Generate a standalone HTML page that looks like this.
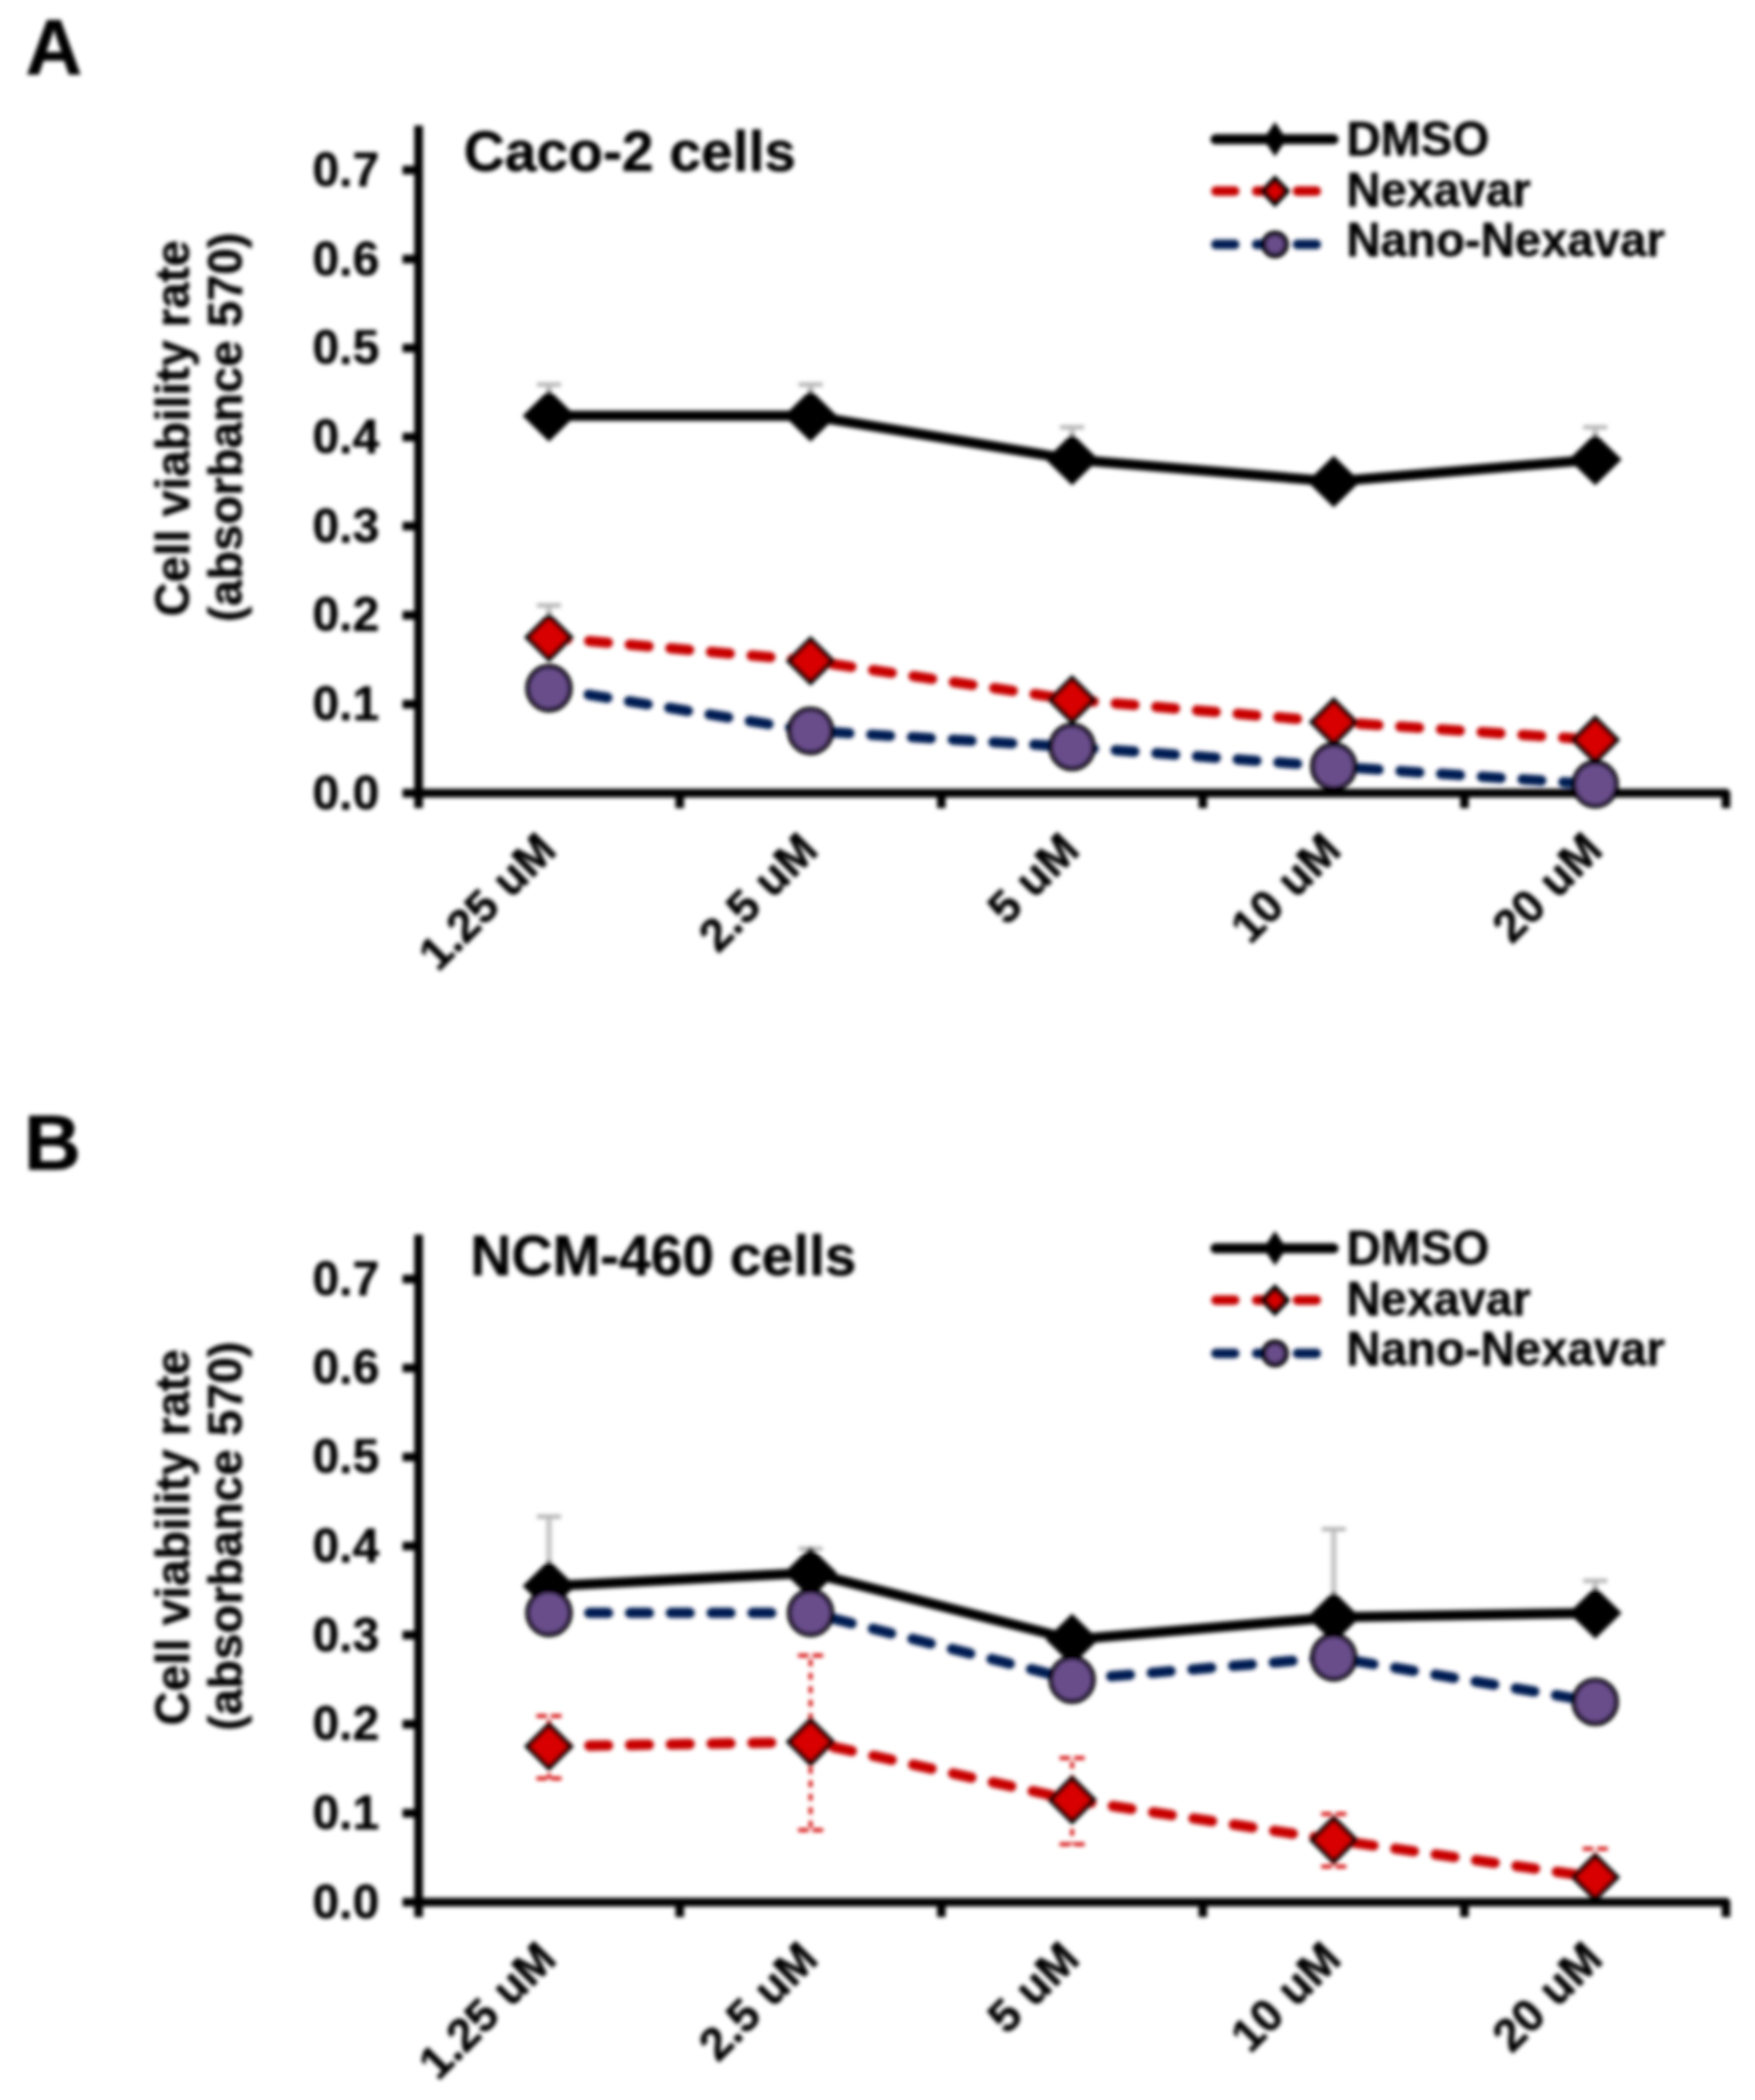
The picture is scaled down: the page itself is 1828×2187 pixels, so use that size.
<!DOCTYPE html>
<html lang="en">
<head>
<meta charset="utf-8">
<title>Cell viability rate - Caco-2 and NCM-460 cells</title>
<style>
html,body{margin:0;padding:0;background:#fff}
svg{display:block}
.b{font-family:"Liberation Sans",Arial,Helvetica,sans-serif;font-weight:bold;fill:#000;stroke:#000;stroke-width:.5px;stroke-linejoin:round}
.ax{stroke:#000;stroke-width:9;fill:none;stroke-linecap:butt}
.ld{stroke:#000;stroke-width:10.5;fill:none;stroke-linejoin:round;stroke-linecap:round}
.ln{stroke:#c80000;stroke-width:10.8;fill:none;stroke-dasharray:19.5 23;stroke-dashoffset:0.5;stroke-linecap:round;stroke-linejoin:round}
.lb{stroke:#061e52;stroke-width:10.8;fill:none;stroke-dasharray:19.5 23;stroke-dashoffset:0.5;stroke-linecap:round;stroke-linejoin:round}
.mr{fill:#d80000;stroke:#000;stroke-width:4.9;stroke-linejoin:miter}
.mp{fill:#694e8b;stroke:#000;stroke-width:4.8}
.eg{stroke:#b4b4b4;stroke-width:4.4;fill:none}
.er{stroke:#d40000;stroke-width:3.8;fill:none}
</style>
</head>
<body>
<svg width="1828" height="2187" viewBox="0 0 1828 2187">
<defs><filter id="bl" x="0" y="0" width="1828" height="2187" filterUnits="userSpaceOnUse"><feGaussianBlur stdDeviation="2.2"/></filter></defs>
<rect width="1828" height="2187" fill="#fff"/>
<g filter="url(#bl)">
<g>
<text x="26.5" y="77" font-size="82" class="b">A</text>
<text x="483" y="177.5" font-size="59.3" class="b">Caco-2 cells</text>
<text transform="translate(196.8 446.1) rotate(-90)" text-anchor="middle" font-size="49.3" class="b">Cell viability rate</text>
<text transform="translate(252.3 444.9) rotate(-90)" text-anchor="middle" font-size="49.3" class="b">(absorbance 570)</text>
<text x="395" y="842.8" text-anchor="end" font-size="50" class="b">0.0</text>
<text x="395" y="750.1" text-anchor="end" font-size="50" class="b">0.1</text>
<text x="395" y="657.4" text-anchor="end" font-size="50" class="b">0.2</text>
<text x="395" y="564.6" text-anchor="end" font-size="50" class="b">0.3</text>
<text x="395" y="471.9" text-anchor="end" font-size="50" class="b">0.4</text>
<text x="395" y="379.2" text-anchor="end" font-size="50" class="b">0.5</text>
<text x="395" y="286.5" text-anchor="end" font-size="50" class="b">0.6</text>
<text x="395" y="193.8" text-anchor="end" font-size="50" class="b">0.7</text>
<path d="M571.8 433.0V400.5" class="eg" style="stroke:#c6c6c6;stroke-width:6"/><path d="M559.3 400.5H584.3" class="eg"/>
<path d="M844.3 433.0V400.5" class="eg" style="stroke:#c6c6c6;stroke-width:6"/><path d="M831.8 400.5H856.8" class="eg"/>
<path d="M1116.7 478.4V445.0" class="eg" style="stroke:#c6c6c6;stroke-width:6"/><path d="M1104.2 445.0H1129.2" class="eg"/>
<path d="M1661.6 478.4V445.0" class="eg" style="stroke:#c6c6c6;stroke-width:6"/><path d="M1649.1 445.0H1674.1" class="eg"/>
<path d="M571.8 663.8V630.5" class="eg" style="stroke:#c6c6c6;stroke-width:6"/><path d="M559.3 630.5H584.3" class="eg"/>
<path d="M436.0 130.8V841.6" class="ax"/>
<path d="M419.3 826.1H1797.8V841.6" class="ax" stroke-linejoin="round"/>
<path d="M419.3 733.4H436.0" class="ax"/>
<path d="M419.3 640.7H436.0" class="ax"/>
<path d="M419.3 547.9H436.0" class="ax"/>
<path d="M419.3 455.2H436.0" class="ax"/>
<path d="M419.3 362.5H436.0" class="ax"/>
<path d="M419.3 269.8H436.0" class="ax"/>
<path d="M419.3 177.1H436.0" class="ax"/>
<path d="M708.0 826.1V841.6" class="ax"/>
<path d="M980.5 826.1V841.6" class="ax"/>
<path d="M1252.9 826.1V841.6" class="ax"/>
<path d="M1525.4 826.1V841.6" class="ax"/>
<polyline points="571.8,433.0 844.3,433.0 1116.7,478.4 1389.2,501.6 1661.6,478.4" class="ld"/>
<path d="M544.3 433.0L571.8 406.0L599.3 433.0L571.8 460.0Z" fill="#000"/>
<path d="M816.8 433.0L844.3 406.0L871.8 433.0L844.3 460.0Z" fill="#000"/>
<path d="M1089.2 478.4L1116.7 451.4L1144.2 478.4L1116.7 505.4Z" fill="#000"/>
<path d="M1361.7 501.6L1389.2 474.6L1416.7 501.6L1389.2 528.6Z" fill="#000"/>
<path d="M1634.1 478.4L1661.6 451.4L1689.1 478.4L1661.6 505.4Z" fill="#000"/>
<polyline points="571.8,663.8 844.3,688.2 1116.7,728.7 1389.2,751.9 1661.6,770.5" class="ln"/>
<path d="M549.2 663.8L571.8 641.2L594.4 663.8L571.8 686.4Z" class="mr"/>
<path d="M821.7 688.2L844.3 665.6L866.9 688.2L844.3 710.8Z" class="mr"/>
<path d="M1094.1 728.7L1116.7 706.1L1139.3 728.7L1116.7 751.3Z" class="mr"/>
<path d="M1366.6 751.9L1389.2 729.3L1411.8 751.9L1389.2 774.5Z" class="mr"/>
<path d="M1639.0 770.5L1661.6 747.9L1684.2 770.5L1661.6 793.1Z" class="mr"/>
<polyline points="571.8,716.7 844.3,761.2 1116.7,777.9 1389.2,798.3 1661.6,816.8" class="lb"/>
<ellipse cx="571.8" cy="716.7" rx="22.2" ry="22.8" class="mp"/>
<ellipse cx="844.3" cy="761.2" rx="22.2" ry="22.8" class="mp"/>
<ellipse cx="1116.7" cy="777.9" rx="22.2" ry="22.8" class="mp"/>
<ellipse cx="1389.2" cy="798.3" rx="22.2" ry="22.8" class="mp"/>
<ellipse cx="1661.6" cy="816.8" rx="22.2" ry="22.8" class="mp"/>
<text transform="translate(581.8 887.6) rotate(-45)" text-anchor="end" font-size="48.4" class="b">1.25 uM</text>
<text transform="translate(854.3 887.6) rotate(-45)" text-anchor="end" font-size="48.4" class="b">2.5 uM</text>
<text transform="translate(1126.7 887.6) rotate(-45)" text-anchor="end" font-size="48.4" class="b">5 uM</text>
<text transform="translate(1399.2 887.6) rotate(-45)" text-anchor="end" font-size="48.4" class="b">10 uM</text>
<text transform="translate(1671.6 887.6) rotate(-45)" text-anchor="end" font-size="48.4" class="b">20 uM</text>
<path d="M1266 145.1H1389" class="ld"/>
<path d="M1316 145.1L1328 127.1L1340 145.1L1328 163.1Z" fill="#000"/>
<text x="1402.5" y="162.1" font-size="49.6" class="b">DMSO</text>
<path d="M1266.5 199.1H1380" class="ln" style="stroke-dashoffset:0;stroke-width:10"/>
<path d="M1315.5 199.1L1328 186.1L1340.5 199.1L1328 212.1Z" class="mr" style="stroke-width:5.5"/>
<text x="1402.5" y="215.1" font-size="49.3" class="b">Nexavar</text>
<path d="M1266.5 254.6H1380" class="lb" style="stroke-dashoffset:0;stroke-width:10"/>
<circle cx="1328" cy="254.6" r="11.8" class="mp" style="stroke-width:5.2"/>
<text x="1402.5" y="266.6" font-size="49.3" class="b">Nano-Nexavar</text>
</g>
<g>
<text x="25" y="1217.5" font-size="82" class="b">B</text>
<text x="490" y="1327.5" font-size="59.3" class="b">NCM-460 cells</text>
<text transform="translate(196.8 1601.0) rotate(-90)" text-anchor="middle" font-size="49.3" class="b">Cell viability rate</text>
<text transform="translate(252.3 1599.8) rotate(-90)" text-anchor="middle" font-size="49.3" class="b">(absorbance 570)</text>
<text x="395" y="1997.7" text-anchor="end" font-size="50" class="b">0.0</text>
<text x="395" y="1905.0" text-anchor="end" font-size="50" class="b">0.1</text>
<text x="395" y="1812.3" text-anchor="end" font-size="50" class="b">0.2</text>
<text x="395" y="1719.5" text-anchor="end" font-size="50" class="b">0.3</text>
<text x="395" y="1626.8" text-anchor="end" font-size="50" class="b">0.4</text>
<text x="395" y="1534.1" text-anchor="end" font-size="50" class="b">0.5</text>
<text x="395" y="1441.4" text-anchor="end" font-size="50" class="b">0.6</text>
<text x="395" y="1348.7" text-anchor="end" font-size="50" class="b">0.7</text>
<path d="M571.8 1651.8V1579.5" class="eg" style="stroke:#c6c6c6;stroke-width:6"/><path d="M559.3 1579.5H584.3" class="eg"/>
<path d="M844.3 1637.9V1612.9" class="eg" style="stroke:#c6c6c6;stroke-width:6"/><path d="M831.8 1612.9H856.8" class="eg"/>
<path d="M1389.2 1684.3V1592.5" class="eg" style="stroke:#c6c6c6;stroke-width:6"/><path d="M1376.7 1592.5H1401.7" class="eg"/>
<path d="M1661.6 1679.7V1646.3" class="eg" style="stroke:#c6c6c6;stroke-width:6"/><path d="M1649.1 1646.3H1674.1" class="eg"/>
<path d="M571.8 1787.2V1852.1" class="er" stroke-dasharray="7 7" stroke-dashoffset="-4"/>
<path d="M558.8 1787.2H584.8M558.8 1852.1H584.8" class="er" stroke-dasharray="11 4"/>
<path d="M844.3 1724.2V1905.9" class="er" stroke-dasharray="7 7" stroke-dashoffset="-4"/>
<path d="M831.3 1724.2H857.3M831.3 1905.9H857.3" class="er" stroke-dasharray="11 4"/>
<path d="M1116.7 1830.8V1920.7" class="er" stroke-dasharray="7 7" stroke-dashoffset="-4"/>
<path d="M1103.7 1830.8H1129.7M1103.7 1920.7H1129.7" class="er" stroke-dasharray="11 4"/>
<path d="M1389.2 1889.2V1943.9" class="er" stroke-dasharray="7 7" stroke-dashoffset="-4"/>
<path d="M1376.2 1889.2H1402.2M1376.2 1943.9H1402.2" class="er" stroke-dasharray="11 4"/>
<path d="M1661.6 1925.4V1981.0" class="er" stroke-dasharray="7 7" stroke-dashoffset="-4"/>
<path d="M1648.6 1925.4H1674.6M1648.6 1981.0H1674.6" class="er" stroke-dasharray="11 4"/>
<path d="M436.0 1285.7V1996.5" class="ax"/>
<path d="M419.3 1981.0H1797.8V1996.5" class="ax" stroke-linejoin="round"/>
<path d="M419.3 1888.3H436.0" class="ax"/>
<path d="M419.3 1795.6H436.0" class="ax"/>
<path d="M419.3 1702.8H436.0" class="ax"/>
<path d="M419.3 1610.1H436.0" class="ax"/>
<path d="M419.3 1517.4H436.0" class="ax"/>
<path d="M419.3 1424.7H436.0" class="ax"/>
<path d="M419.3 1332.0H436.0" class="ax"/>
<path d="M708.0 1981.0V1996.5" class="ax"/>
<path d="M980.5 1981.0V1996.5" class="ax"/>
<path d="M1252.9 1981.0V1996.5" class="ax"/>
<path d="M1525.4 1981.0V1996.5" class="ax"/>
<polyline points="571.8,1651.8 844.3,1637.9 1116.7,1707.5 1389.2,1684.3 1661.6,1679.7" class="ld"/>
<path d="M544.3 1651.8L571.8 1624.8L599.3 1651.8L571.8 1678.8Z" fill="#000"/>
<path d="M816.8 1637.9L844.3 1610.9L871.8 1637.9L844.3 1664.9Z" fill="#000"/>
<path d="M1089.2 1707.5L1116.7 1680.5L1144.2 1707.5L1116.7 1734.5Z" fill="#000"/>
<path d="M1361.7 1684.3L1389.2 1657.3L1416.7 1684.3L1389.2 1711.3Z" fill="#000"/>
<path d="M1634.1 1679.7L1661.6 1652.7L1689.1 1679.7L1661.6 1706.7Z" fill="#000"/>
<polyline points="571.8,1818.7 844.3,1814.1 1116.7,1874.4 1389.2,1916.1 1661.6,1955.0" class="ln"/>
<path d="M549.2 1818.7L571.8 1796.1L594.4 1818.7L571.8 1841.3Z" class="mr"/>
<path d="M821.7 1814.1L844.3 1791.5L866.9 1814.1L844.3 1836.7Z" class="mr"/>
<path d="M1094.1 1874.4L1116.7 1851.8L1139.3 1874.4L1116.7 1897.0Z" class="mr"/>
<path d="M1366.6 1916.1L1389.2 1893.5L1411.8 1916.1L1389.2 1938.7Z" class="mr"/>
<path d="M1639.0 1955.0L1661.6 1932.4L1684.2 1955.0L1661.6 1977.6Z" class="mr"/>
<polyline points="571.8,1679.7 844.3,1679.7 1116.7,1749.2 1389.2,1726.0 1661.6,1772.4" class="lb"/>
<ellipse cx="571.8" cy="1679.7" rx="22.2" ry="22.8" class="mp"/>
<ellipse cx="844.3" cy="1679.7" rx="22.2" ry="22.8" class="mp"/>
<ellipse cx="1116.7" cy="1749.2" rx="22.2" ry="22.8" class="mp"/>
<ellipse cx="1389.2" cy="1726.0" rx="22.2" ry="22.8" class="mp"/>
<ellipse cx="1661.6" cy="1772.4" rx="22.2" ry="22.8" class="mp"/>
<text transform="translate(581.8 2042.5) rotate(-45)" text-anchor="end" font-size="48.4" class="b">1.25 uM</text>
<text transform="translate(854.3 2042.5) rotate(-45)" text-anchor="end" font-size="48.4" class="b">2.5 uM</text>
<text transform="translate(1126.7 2042.5) rotate(-45)" text-anchor="end" font-size="48.4" class="b">5 uM</text>
<text transform="translate(1399.2 2042.5) rotate(-45)" text-anchor="end" font-size="48.4" class="b">10 uM</text>
<text transform="translate(1671.6 2042.5) rotate(-45)" text-anchor="end" font-size="48.4" class="b">20 uM</text>
<path d="M1266 1300.0H1389" class="ld"/>
<path d="M1316 1300.0L1328 1282.0L1340 1300.0L1328 1318.0Z" fill="#000"/>
<text x="1402.5" y="1317.0" font-size="49.6" class="b">DMSO</text>
<path d="M1266.5 1354.0H1380" class="ln" style="stroke-dashoffset:0;stroke-width:10"/>
<path d="M1315.5 1354.0L1328 1341.0L1340.5 1354.0L1328 1367.0Z" class="mr" style="stroke-width:5.5"/>
<text x="1402.5" y="1370.0" font-size="49.3" class="b">Nexavar</text>
<path d="M1266.5 1409.5H1380" class="lb" style="stroke-dashoffset:0;stroke-width:10"/>
<circle cx="1328" cy="1409.5" r="11.8" class="mp" style="stroke-width:5.2"/>
<text x="1402.5" y="1421.5" font-size="49.3" class="b">Nano-Nexavar</text>
</g>
</g>
</svg>
</body>
</html>
